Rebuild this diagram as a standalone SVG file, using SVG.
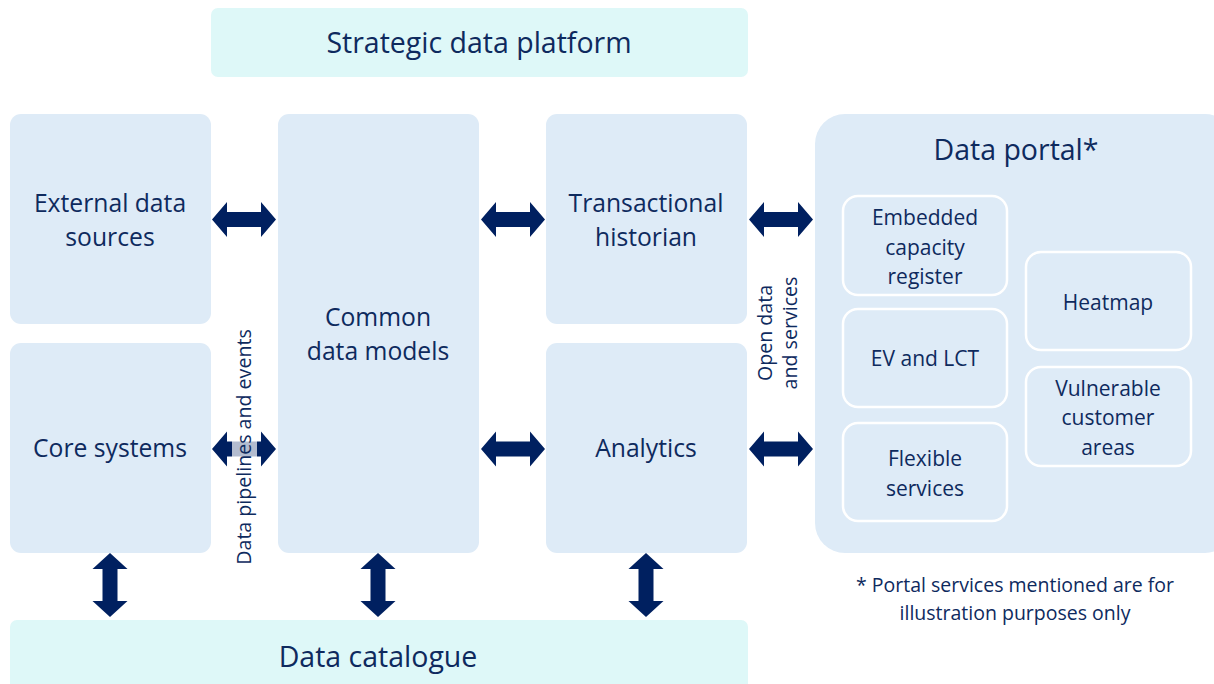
<svg xmlns="http://www.w3.org/2000/svg" width="1214" height="684" viewBox="0 0 1214 684">
<style>
.box{fill:#DEEBF7}
.ban{fill:#DEF8F8}
.sub{fill:#DEEBF7;stroke:#FFFFFF;stroke-width:2.5}
.arr{fill:#002060}
text{font-family:"Open Sans",Lato,sans-serif;fill:#0E2A5E;text-anchor:middle}
.t24{font-size:24.7px}
.t27{font-size:28.5px}
.t20{font-size:21px}
.t19{font-size:19.5px}
.t18{font-size:19.6px}
</style>
<defs>
<path id="h" d="M0,0 L15,-17.5 L15,-7.5 L49,-7.5 L49,-17.5 L64,0 L49,17.5 L49,7.5 L15,7.5 L15,17.5 Z"/>
<path id="v" d="M0,0 L17.5,16 L7.5,16 L7.5,48 L17.5,48 L0,64 L-17.5,48 L-7.5,48 L-7.5,16 L-17.5,16 Z"/>
</defs>
<g id="strategic-data-platform"><rect class="ban" x="211" y="8" width="537" height="69" rx="7"/><text class="t27" x="479" y="53">Strategic data platform</text></g>
<g id="data-catalogue"><rect class="ban" x="10" y="620" width="738" height="70" rx="7"/><text class="t27" x="378" y="667">Data catalogue</text></g>
<g id="external-data-sources"><rect class="box" x="10" y="114" width="201" height="210" rx="11"/><text class="t24"><tspan x="110" y="212">External data</tspan><tspan x="110" y="246">sources</tspan></text></g>
<g id="core-systems"><rect class="box" x="10" y="343" width="201" height="210" rx="11"/><text class="t24" x="110" y="457">Core systems</text></g>
<g id="common-data-models"><rect class="box" x="278" y="114" width="201" height="439" rx="11"/><text class="t24"><tspan x="378" y="326">Common</tspan><tspan x="378" y="360">data models</tspan></text></g>
<g id="transactional-historian"><rect class="box" x="546" y="114" width="201" height="210" rx="11"/><text class="t24"><tspan x="646" y="212">Transactional</tspan><tspan x="646" y="246">historian</tspan></text></g>
<g id="analytics"><rect class="box" x="546" y="343" width="201" height="210" rx="11"/><text class="t24" x="646" y="457">Analytics</text></g>
<g id="data-portal"><rect class="box" x="815" y="114" width="420" height="439" rx="30"/><text class="t27" x="1016" y="160">Data portal*</text></g>
<g id="embedded-capacity-register"><rect class="sub" x="843" y="196" width="164" height="99" rx="15"/><text class="t20"><tspan x="925" y="225">Embedded</tspan><tspan x="925" y="255">capacity</tspan><tspan x="925" y="284">register</tspan></text></g>
<g id="ev-and-lct"><rect class="sub" x="843" y="309" width="164" height="98" rx="15"/><text class="t20" x="925" y="366">EV and LCT</text></g>
<g id="flexible-services"><rect class="sub" x="843" y="423" width="164" height="98" rx="15"/><text class="t20"><tspan x="925" y="466">Flexible</tspan><tspan x="925" y="496">services</tspan></text></g>
<g id="heatmap"><rect class="sub" x="1026" y="252" width="165" height="98" rx="15"/><text class="t20" x="1108" y="310">Heatmap</text></g>
<g id="vulnerable-customer-areas"><rect class="sub" x="1026" y="367" width="165" height="99" rx="15"/><text class="t20"><tspan x="1108" y="396">Vulnerable</tspan><tspan x="1108" y="425">customer</tspan><tspan x="1108" y="455">areas</tspan></text></g>
<g id="connectors">
<use href="#h" class="arr" x="212" y="219.5"/>
<use href="#h" class="arr" x="212" y="449"/>
<use href="#h" class="arr" x="481" y="219.5"/>
<use href="#h" class="arr" x="481" y="449"/>
<use href="#h" class="arr" x="749" y="219.5"/>
<use href="#h" class="arr" x="749" y="449"/>
<use href="#v" class="arr" x="110" y="553"/>
<use href="#v" class="arr" x="378" y="553"/>
<use href="#v" class="arr" x="646" y="553"/>
</g>
<g id="label-pipelines"><rect x="232" y="330" width="25" height="233" fill="#FFFFFF" fill-opacity="0.7"/><text class="t18" transform="translate(251,447) rotate(-90)">Data pipelines and events</text></g>
<g id="label-open-data"><text class="t18" transform="rotate(-90 772 333)"><tspan x="772" y="333">Open data</tspan><tspan x="772" y="358">and services</tspan></text></g>
<g id="footnote"><text class="t19"><tspan x="1015" y="592">* Portal services mentioned are for</tspan><tspan x="1015" y="620">illustration purposes only</tspan></text></g>
</svg>
